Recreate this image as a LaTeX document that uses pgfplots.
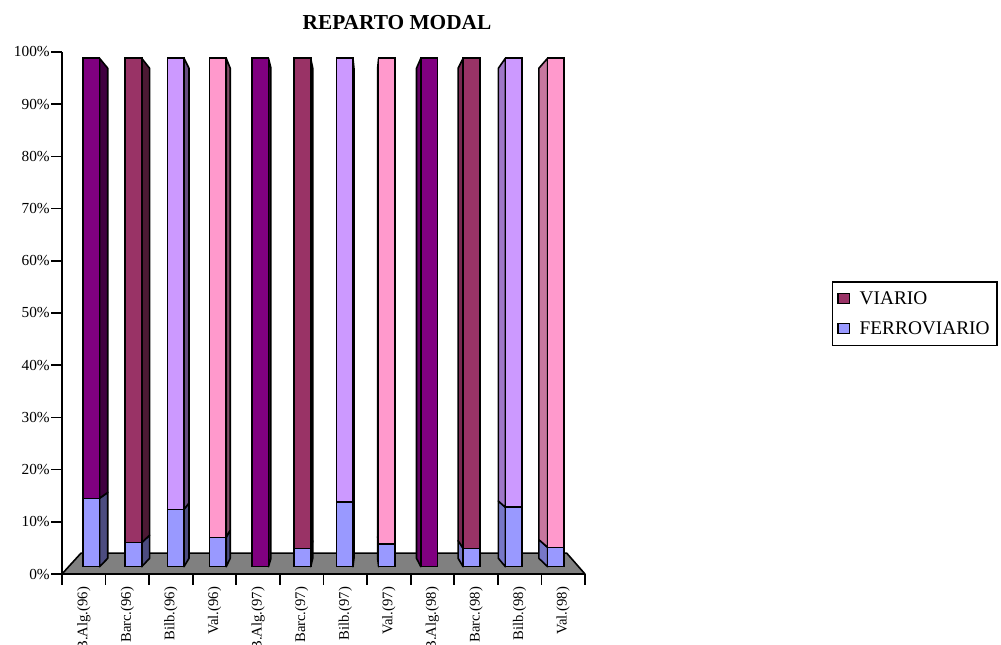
\documentclass[border=0pt]{standalone}
\usepackage{fontspec}
\setmainfont{Liberation Serif}
\usepackage{pgfplots}
\pgfplotsset{compat=1.18}
\definecolor{cPur}{HTML}{800080}
\definecolor{cMar}{HTML}{993366}
\definecolor{cLil}{HTML}{CC99FF}
\definecolor{cPin}{HTML}{FF99CC}
\definecolor{cBlu}{HTML}{9999FF}
\definecolor{cFloor}{HTML}{808080}
\begin{document}
\begin{tikzpicture}
\useasboundingbox (-46.5pt,-52.5pt) rectangle (704.25pt,430.5pt);
\pgfplotsset{
  commonax/.style={scale only axis, width=392.25pt, height=391.5pt,
    xmin=0, xmax=12, ymin=0, ymax=100, at={(0,0)}, anchor=south west},
  sideR/.style={forget plot, draw=black, line width=1.2pt, line join=round, fill=#1!50!black},
  sideL/.style={forget plot, draw=black, line width=1.2pt, line join=round, fill=#1!78!black},
}
\begin{axis}[commonax, clip=false,
  axis x line*=bottom, axis y line*=left,
  axis line style={-, line width=1.3pt},
  xtick={0,1,...,12}, x tick label as interval,
  xticklabels={B.Alg.(96),Barc.(96),Bilb.(96),Val.(96),B.Alg.(97),Barc.(97),Bilb.(97),Val.(97),B.Alg.(98),Barc.(98),Bilb.(98),Val.(98)},
  xticklabel style={rotate=90, anchor=east, inner sep=1.5pt, font=\fontsize{11}{13}\selectfont},
  ytick={0,10,...,100},
  yticklabels={0\%,10\%,20\%,30\%,40\%,50\%,60\%,70\%,80\%,90\%,100\%},
  yticklabel style={inner sep=1pt, font=\fontsize{11.5}{13}\selectfont},
  tick align=outside, major tick length=8pt,
  every tick/.style={black, line width=1.3pt},
  /pgf/number format/assume math mode=true,
  title={REPARTO MODAL},
  title style={font=\bfseries\fontsize{16}{19}\selectfont, at={(0.6405,1.028)}, anchor=base},
  legend style={at={(1.472,0.561)}, anchor=north west, draw=black, line width=1.1pt,
    font=\fontsize{14.5}{17}\selectfont, inner xsep=3.5pt, inner ysep=5pt, row sep=7.5pt,
    column sep=5pt},
  legend cell align=left,
]
\addlegendimage{legend image code/.code={\draw[fill=cMar, draw=black, line width=1pt] (2pt,-3.8pt) rectangle (10.8pt,3.8pt);}}
\addlegendentry{VIARIO}
\addlegendimage{legend image code/.code={\draw[fill=cBlu, draw=black, line width=1pt] (2pt,-3.8pt) rectangle (10.8pt,3.8pt);}}
\addlegendentry{FERROVIARIO}
% floor
\addplot[forget plot, fill=cFloor, draw=black, line width=1.2pt, line join=round]
  coordinates {(0,0) (12,0) (11.58,4.0) (0.436,4.0)} -- cycle;
% right side faces
\addplot[sideR=cBlu] coordinates {(0.860,1.4) (1.050,3.0) (1.050,15.63) (0.860,14.50)} -- cycle;
\addplot[sideR=cPur] coordinates {(0.860,14.50) (1.050,15.63) (1.050,96.89) (0.860,98.8)} -- cycle;
\addplot[sideR=cBlu] coordinates {(1.829,1.4) (2.009,3.0) (2.009,7.43) (1.829,6.00)} -- cycle;
\addplot[sideR=cMar] coordinates {(1.829,6.00) (2.009,7.43) (2.009,96.89) (1.829,98.8)} -- cycle;
\addplot[sideR=cBlu] coordinates {(2.799,1.4) (2.914,3.0) (2.914,13.59) (2.799,12.39)} -- cycle;
\addplot[sideR=cLil] coordinates {(2.799,12.39) (2.914,13.59) (2.914,96.89) (2.799,98.8)} -- cycle;
\addplot[sideR=cBlu] coordinates {(3.768,1.4) (3.860,3.0) (3.860,8.43) (3.768,7.03)} -- cycle;
\addplot[sideR=cPin] coordinates {(3.768,7.03) (3.860,8.43) (3.860,96.89) (3.768,98.8)} -- cycle;
\addplot[sideR=cPur] coordinates {(4.737,1.4) (4.794,3.0) (4.794,96.89) (4.737,98.8)} -- cycle;
\addplot[sideR=cBlu] coordinates {(5.707,1.4) (5.753,3.0) (5.753,6.33) (5.707,4.85)} -- cycle;
\addplot[sideR=cMar] coordinates {(5.707,4.85) (5.753,6.33) (5.753,96.89) (5.707,98.8)} -- cycle;
\addplot[sideR=cBlu] coordinates {(6.676,1.4) (6.699,3.0) (6.699,15.00) (6.676,13.85)} -- cycle;
\addplot[sideR=cLil] coordinates {(6.676,13.85) (6.699,15.00) (6.699,96.89) (6.676,98.8)} -- cycle;
% left side faces
\addplot[sideL=cBlu] coordinates {(7.265,1.4) (7.242,3.0) (7.242,7.19) (7.265,5.75)} -- cycle;
\addplot[sideL=cPin] coordinates {(7.265,5.75) (7.242,7.19) (7.242,96.89) (7.265,98.8)} -- cycle;
\addplot[sideL=cPur] coordinates {(8.234,1.4) (8.134,3.0) (8.134,96.89) (8.234,98.8)} -- cycle;
\addplot[sideL=cBlu] coordinates {(9.204,1.4) (9.089,3.0) (9.089,6.39) (9.204,4.92)} -- cycle;
\addplot[sideL=cMar] coordinates {(9.204,4.92) (9.089,6.39) (9.089,96.89) (9.204,98.8)} -- cycle;
\addplot[sideL=cBlu] coordinates {(10.173,1.4) (10.013,3.0) (10.013,13.97) (10.173,12.78)} -- cycle;
\addplot[sideL=cLil] coordinates {(10.173,12.78) (10.013,13.97) (10.013,96.89) (10.173,98.8)} -- cycle;
\addplot[sideL=cBlu] coordinates {(11.142,1.4) (10.942,3.0) (10.942,6.58) (11.142,5.11)} -- cycle;
\addplot[sideL=cPin] coordinates {(11.142,5.11) (10.942,6.58) (10.942,96.89) (11.142,98.8)} -- cycle;
\end{axis}
\begin{axis}[commonax, hide axis, ybar stacked, bar width=0.38,
  every axis plot/.append style={draw=black, line width=1.2pt}]
\addplot[draw=none, fill=none] coordinates {(0.670,1.4) (1.639,1.4) (2.609,1.4) (3.578,1.4) (4.547,1.4) (5.517,1.4) (6.486,1.4) (7.455,1.4) (8.424,1.4) (9.394,1.4) (10.363,1.4) (11.332,1.4)};
\addplot[fill=cBlu] coordinates {(0.670,13.10) (1.639,4.60) (2.609,10.99) (3.578,5.63) (4.547,0) (5.517,3.45) (6.486,12.45) (7.455,4.35) (8.424,0) (9.394,3.52) (10.363,11.38) (11.332,3.71)};
\addplot[fill=cPur] coordinates {(0.670,84.30) (1.639,0) (2.609,0) (3.578,0) (4.547,97.40) (5.517,0) (6.486,0) (7.455,0) (8.424,97.40) (9.394,0) (10.363,0) (11.332,0)};
\addplot[fill=cMar] coordinates {(0.670,0) (1.639,92.80) (2.609,0) (3.578,0) (4.547,0) (5.517,93.95) (6.486,0) (7.455,0) (8.424,0) (9.394,93.88) (10.363,0) (11.332,0)};
\addplot[fill=cLil] coordinates {(0.670,0) (1.639,0) (2.609,86.41) (3.578,0) (4.547,0) (5.517,0) (6.486,84.95) (7.455,0) (8.424,0) (9.394,0) (10.363,86.02) (11.332,0)};
\addplot[fill=cPin] coordinates {(0.670,0) (1.639,0) (2.609,0) (3.578,91.77) (4.547,0) (5.517,0) (6.486,0) (7.455,93.05) (8.424,0) (9.394,0) (10.363,0) (11.332,93.69)};
\end{axis}
\end{tikzpicture}
\end{document}
